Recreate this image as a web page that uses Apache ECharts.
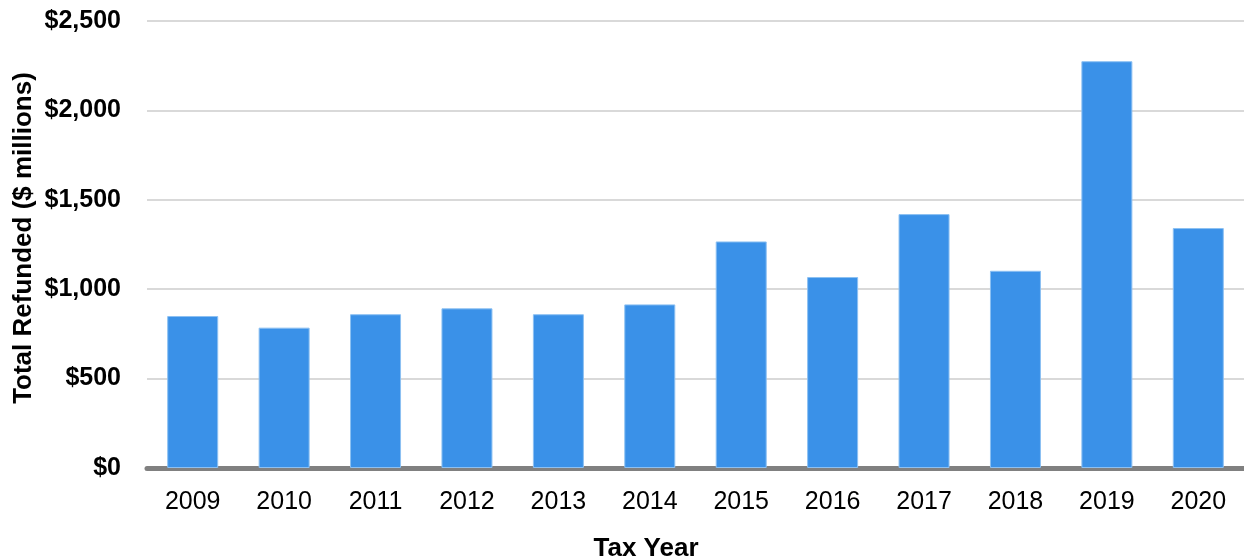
<!DOCTYPE html>
<html>
<head>
<meta charset="utf-8">
<script src="https://cdn.jsdelivr.net/npm/echarts@6/dist/echarts.min.js"></script>
<style>
html,body{margin:0;padding:0;background:#fff;}
#chart{width:1244px;height:556px;}
</style>
</head>
<body>
<div id="chart"></div>
<script>
const years = ['2009','2010','2011','2012','2013','2014','2015','2016','2017','2018','2019','2020'];
const refunded = [850, 785, 860, 893, 860, 915, 1267, 1068, 1420, 1103, 2275, 1342];
const yTicks = [0, 500, 1000, 1500, 2000, 2500];

const FONT = 'Liberation Sans, Arial, sans-serif';
const chart = echarts.init(document.getElementById('chart'));
chart.setOption({
  animation: false,
  backgroundColor: '#ffffff',
  textStyle: { fontFamily: FONT },
  title: {
    text: 'Tax Year',
    left: 641, top: 531,
    textAlign: 'center',
    textStyle: { fontFamily: FONT, fontWeight: 'bold', fontSize: 26, color: '#000' }
  },
  graphic: [{
    type: 'text',
    x: 24, y: 238,
    rotation: Math.PI / 2,
    style: {
      text: 'Total Refunded ($ millions)',
      fontFamily: FONT, fontWeight: 'bold', fontSize: 26, fill: '#000',
      textAlign: 'center', textVerticalAlign: 'middle'
    }
  }],
  grid: { left: 147, top: 21, width: 1100, bottom: 88, containLabel: false },
  xAxis: {
    type: 'category',
    data: years,
    axisLine: { show: true, lineStyle: { color: '#808080', width: 5 } },
    axisTick: { show: false },
    axisLabel: { color: '#000', fontSize: 25, margin: 22, fontFamily: FONT }
  },
  yAxis: {
    type: 'value',
    min: yTicks[0], max: yTicks[yTicks.length - 1], interval: 500,
    axisLine: { show: false },
    axisTick: { show: false },
    axisLabel: {
      color: '#000', fontWeight: 'bold', fontSize: 25, margin: 26,
      fontFamily: FONT,
      formatter: v => '$' + v.toLocaleString('en-US')
    },
    splitLine: { lineStyle: { color: '#d9d9d9', width: 2 } }
  },
  series: [{
    type: 'bar',
    data: refunded,
    barWidth: 51,
    itemStyle: { color: '#3a91e8', borderColor: '#8cc0f2', borderWidth: 1 }
  }]
});
</script>
</body>
</html>
